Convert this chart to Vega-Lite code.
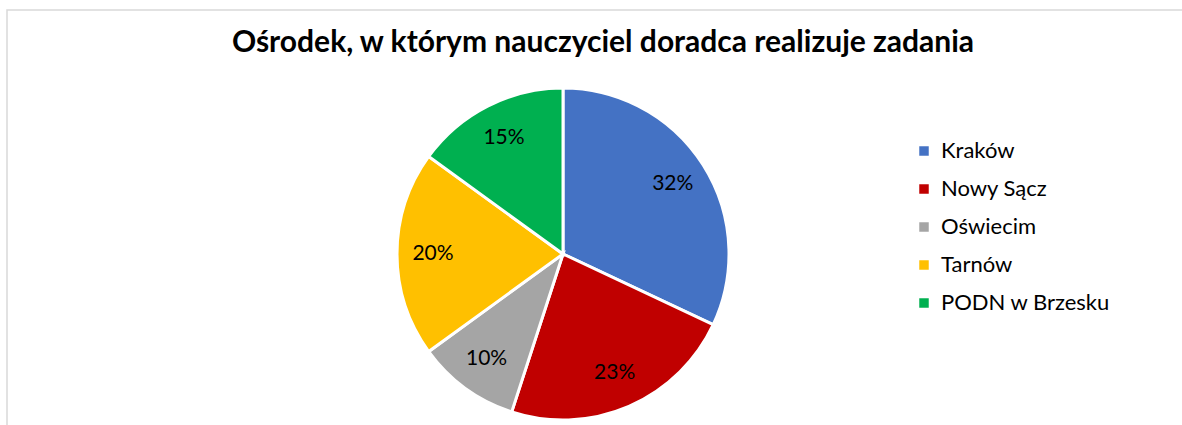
{
  "$schema": "https://vega.github.io/schema/vega-lite/v6.json",
  "autosize": {"type": "none"},
  "padding": {"left": 7, "top": 10, "right": 0, "bottom": 0},
  "width": 1176,
  "height": 488,
  "background": "white",
  "config": {
    "view": {"stroke": "#d9d9d9", "strokeWidth": 1.5},
    "font": "Lato"
  },
  "title": {
    "text": "Ośrodek, w którym nauczyciel doradca realizuje zadania",
    "font": "Lato",
    "fontSize": 30,
    "fontWeight": "bold",
    "color": "#000000",
    "anchor": "middle",
    "baseline": "alphabetic",
    "offset": -72,
    "dx": 8
  },
  "data": {
    "values": [
      {"osrodek": "Kraków", "pct": 0.32, "i": 1},
      {"osrodek": "Nowy Sącz", "pct": 0.23, "i": 2},
      {"osrodek": "Oświecim", "pct": 0.10, "i": 3},
      {"osrodek": "Tarnów", "pct": 0.20, "i": 4},
      {"osrodek": "PODN w Brzesku", "pct": 0.15, "i": 5}
    ]
  },
  "encoding": {
    "theta": {"field": "pct", "type": "quantitative", "stack": true},
    "order": {"field": "i", "type": "quantitative"},
    "color": {
      "field": "osrodek",
      "type": "nominal",
      "sort": ["Kraków", "Nowy Sącz", "Oświecim", "Tarnów", "PODN w Brzesku"],
      "scale": {
        "domain": ["Kraków", "Nowy Sącz", "Oświecim", "Tarnów", "PODN w Brzesku"],
        "range": ["#4472C4", "#C00000", "#A5A5A5", "#FFC000", "#00B050"]
      },
      "legend": {
        "title": null,
        "orient": "none",
        "legendX": 906,
        "legendY": 130,
        "symbolType": "square",
        "symbolSize": 90,
        "symbolStrokeWidth": 0,
        "labelFont": "Lato",
        "labelFontSize": 22,
        "labelLimit": 400,
        "labelColor": "#000000",
        "labelOffset": 6,
        "rowPadding": 16
      }
    }
  },
  "layer": [
    {
      "mark": {"type": "arc", "outerRadius": 166, "stroke": "white", "strokeWidth": 3, "xOffset": -32}
    },
    {
      "mark": {"type": "text", "radius": 130, "fontSize": 21, "font": "Lato", "color": "#000000", "xOffset": -32},
      "encoding": {
        "text": {"field": "pct", "type": "quantitative", "format": ".0%"},
        "color": {"value": "#000000"}
      }
    }
  ],
  "view": {"stroke": "#d9d9d9", "strokeWidth": 1.5}
}
